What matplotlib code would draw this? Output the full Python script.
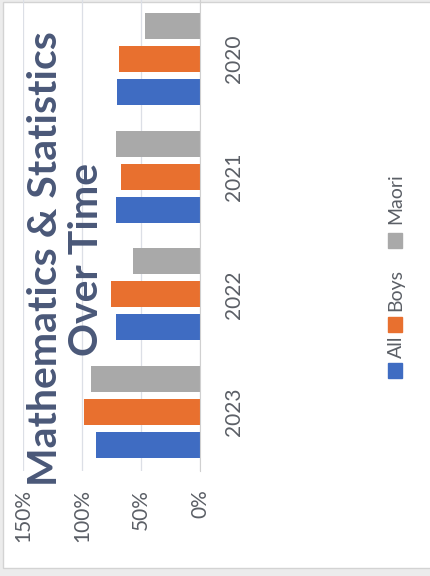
import matplotlib.pyplot as plt
import numpy as np
from matplotlib.patches import Rectangle
from matplotlib.ticker import PercentFormatter

plt.rcParams['font.family'] = ['Lato', 'DejaVu Sans']

years = ['2023', '2022', '2021', '2020']
all_students = [0.88, 0.715, 0.71, 0.70]
boys = [0.98, 0.755, 0.67, 0.685]
maori = [0.925, 0.57, 0.71, 0.465]

series = ['All', 'Boys', 'Maori']
colors = ['#3f6cc2', '#e8702f', '#a9a9a9']

fig = plt.figure(figsize=(4.3, 5.76), dpi=100, facecolor='#ececec')

# white chart area with a thin border
fig.patches.append(Rectangle((3 / 430, 8 / 576), 1, 566 / 576, transform=fig.transFigure,
                             facecolor='white', edgecolor='#d3d3d3', lw=1, zorder=-5))

# chart is laid out sideways: values run right-to-left, years bottom-to-top
ax = fig.add_axes([23 / 430, 105 / 576, 177 / 430, 471 / 576])
ax.set_facecolor('none')

y = np.arange(len(years))
off = 0.28
h = 0.22
ax.barh(y - off, all_students, height=h, color=colors[0])
ax.barh(y, boys, height=h, color=colors[1])
ax.barh(y + off, maori, height=h, color=colors[2])

ax.set_xlim(1.5, 0)
ax.set_ylim(-0.5, 3.5)
ax.set_xticks([0, 0.5, 1.0, 1.5])
ax.xaxis.set_major_formatter(PercentFormatter(1.0, decimals=0))
ax.tick_params(axis='x', length=0, pad=13, labelsize=15, labelcolor='#5b5f66')
for lbl in ax.get_xticklabels():
    lbl.set_rotation(90)
    lbl.set_va('top')
    lbl.set_ha('center')

ax.yaxis.tick_right()
ax.set_yticks(y, years)
ax.tick_params(axis='y', length=0, pad=17, labelsize=15, labelcolor='#5b5f66')
for lbl in ax.get_yticklabels():
    lbl.set_rotation(90)
    lbl.set_va('center')

ax.grid(axis='x', color='#dcdfe6', lw=0.9)
ax.set_axisbelow(True)
for s in ['top', 'bottom', 'left']:
    ax.spines[s].set_visible(False)
ax.spines['right'].set_color('#d0d0d0')

fig.text(66 / 430, 1 - 259 / 576, 'Mathematics & Statistics\nOver Time',
         rotation=90, ha='center', va='center', multialignment='center',
         fontsize=29.5, fontweight='bold', color='#4a5878', linespacing=1.14)

# legend, drawn sideways to follow the rest of the chart
sq_y = [363, 317, 233]
txt_y = [358, 311, 224]
for name, c, sy, ty in zip(series, colors, sq_y, txt_y):
    fig.patches.append(Rectangle((388 / 430, 1 - (sy + 15) / 576), 14 / 430, 15 / 576,
                                 transform=fig.transFigure, color=c))
    fig.text(396 / 430, 1 - ty / 576, name, rotation=90, ha='center', va='bottom',
             fontsize=14, color='#5b5f66')

fig.savefig('out.png', dpi=100, facecolor=fig.get_facecolor())
